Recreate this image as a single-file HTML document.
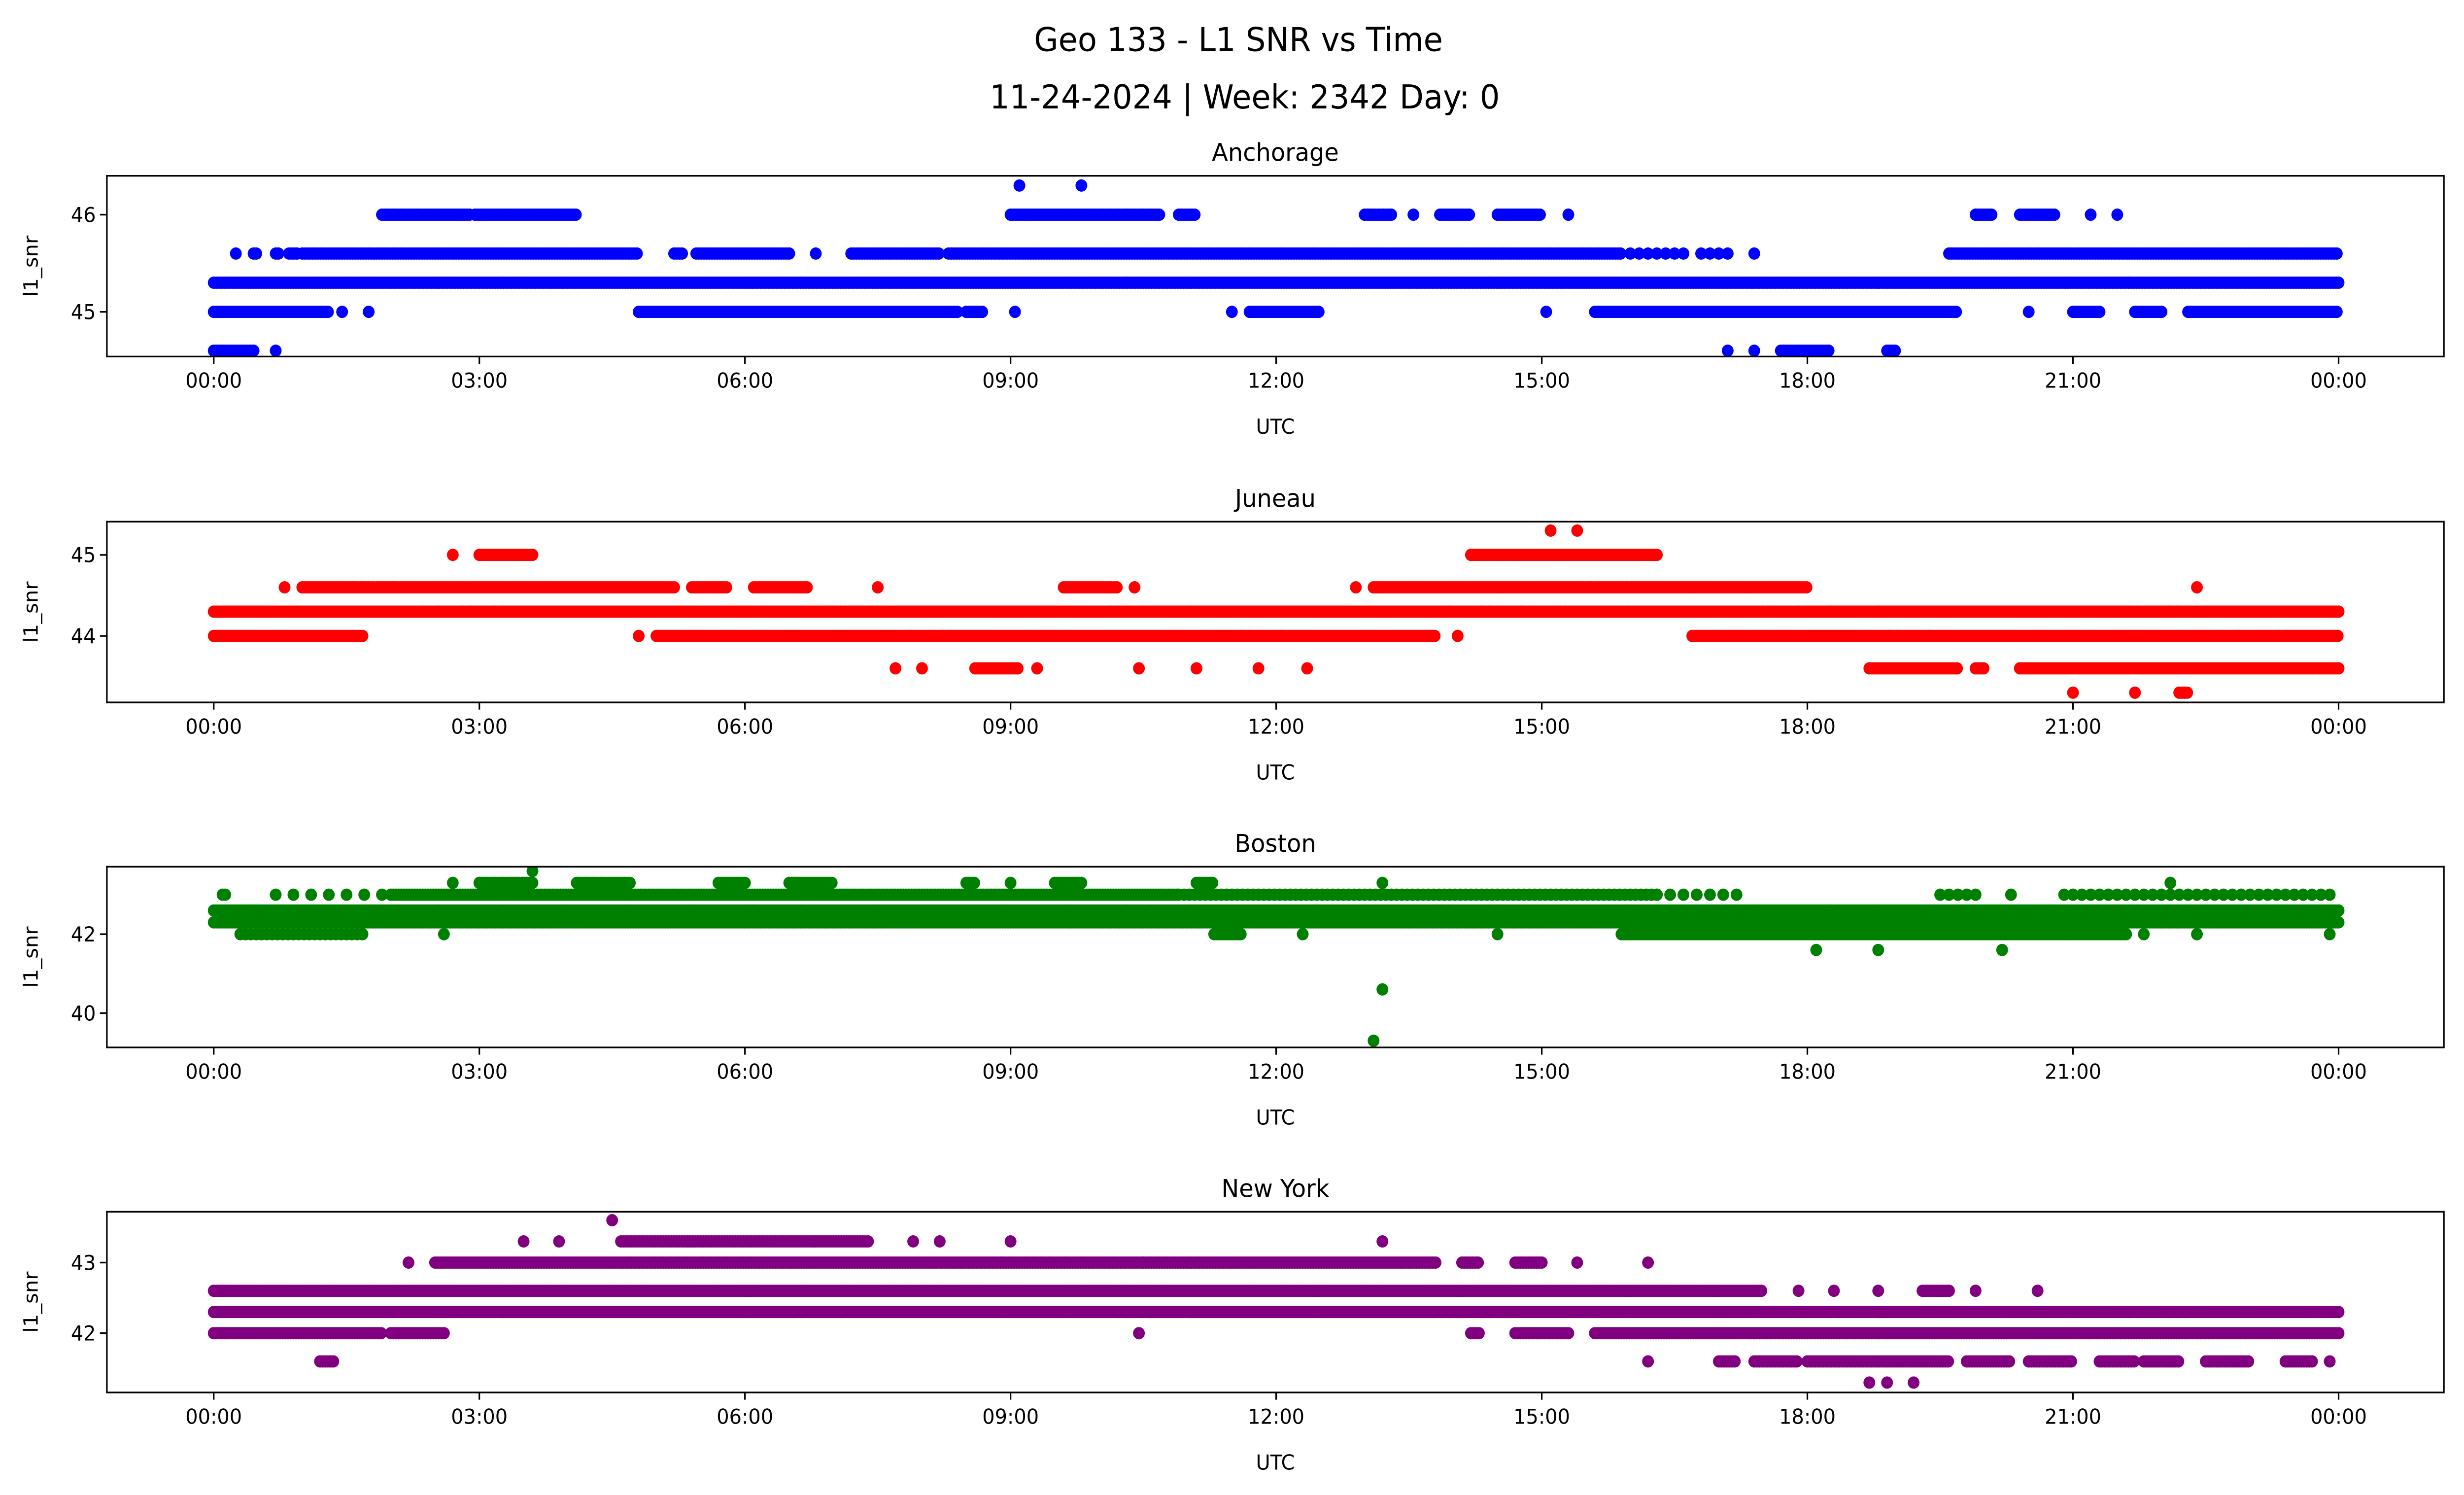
<!DOCTYPE html>
<html><head><meta charset="utf-8"><style>
html,body{margin:0;padding:0;background:#fff;overflow:hidden;width:100%;height:100%;}
svg{display:block;width:100vw;height:100vh;font-family:"DejaVu Sans","Liberation Sans",sans-serif;}
</style></head><body>
<svg id="fig" viewBox="0 0 1567.8 909.9" preserveAspectRatio="none" xmlns="http://www.w3.org/2000/svg">
<rect width="1567.8" height="909.9" fill="#fff"/>
<text x="788" y="31" text-anchor="middle" font-size="20">Geo 133 - L1 SNR vs Time</text>
<text x="792" y="66" text-anchor="middle" font-size="20">11-24-2024 | Week: 2342 Day: 0</text>
</svg>
<script>
// x-axis ticks (hours) and labels
const xTickHours = [0,3,6,9,12,15,18,21,24];
const xTickLabels = ["00:00","03:00","06:00","09:00","12:00","15:00","18:00","21:00","00:00"];
const panelTitles = ["Anchorage","Juneau","Boston","New York"];
const panelColors = ["#0000ff","#ff0000","#008000","#800080"];
const yLims = [[44.54,46.4],[43.18,45.41],[39.13,43.71],[41.16,43.72]];
const yTicks = [[45,46],[44,45],[40,42],[42,43]];
// series runs: [value, startHour, endHour, sampleSpacingHours(optional)]
const anchorageRuns = [
[45.3,0,24],
[45.6,0.25,0.25],[45.6,0.45,0.5],[45.6,0.7,0.75],[45.6,0.85,0.95],[45.6,1.0,4.8],[45.6,5.2,5.3],[45.6,5.45,6.5],[45.6,6.8,6.8],[45.6,7.2,8.2],[45.6,8.3,15.9],[45.6,16.0,16.6,0.1],[45.6,16.8,17.1,0.1],[45.6,17.4,17.4],[45.6,19.6,24],
[45.0,0,1.3],[45.0,1.45,1.45],[45.0,1.75,1.75],[45.0,4.8,8.4],[45.0,8.5,8.7],[45.0,9.05,9.05],[45.0,11.5,11.5],[45.0,11.7,12.5],[45.0,15.05,15.05],[45.0,15.6,19.7],[45.0,20.5,20.5],[45.0,21.0,21.3],[45.0,21.7,22.0],[45.0,22.3,24],
[46.0,1.9,2.9],[46.0,2.95,4.1],[46.0,9.0,10.7],[46.0,10.9,11.1],[46.0,13.0,13.3],[46.0,13.55,13.55],[46.0,13.85,14.2],[46.0,14.5,15.0],[46.0,15.3,15.3],[46.0,19.9,20.1],[46.0,20.4,20.8],[46.0,21.2,21.2],[46.0,21.5,21.5],
[46.3,9.1,9.1],[46.3,9.8,9.8],
[44.6,0,0.45],[44.6,0.7,0.7],[44.6,17.1,17.1],[44.6,17.4,17.4],[44.6,17.7,18.25],[44.6,18.9,19.0]
];
const juneauRuns = [
[44.3,0,24],
[44.0,0,1.7],[44.0,4.8,4.8],[44.0,5.0,13.8],[44.0,14.05,14.05],[44.0,16.7,24],
[44.6,0.8,0.8],[44.6,1.0,5.2],[44.6,5.4,5.8],[44.6,6.1,6.7],[44.6,7.5,7.5],[44.6,9.6,10.2],[44.6,10.4,10.4],[44.6,12.9,12.9],[44.6,13.1,18.0],[44.6,22.4,22.4],
[45.0,2.7,2.7],[45.0,3.0,3.6],[45.0,14.2,16.3],
[45.3,15.1,15.1],[45.3,15.4,15.4],
[43.6,7.7,7.7],[43.6,8.0,8.0],[43.6,8.6,9.1],[43.6,9.3,9.3],[43.6,10.45,10.45],[43.6,11.1,11.1],[43.6,11.8,11.8],[43.6,12.35,12.35],[43.6,18.7,19.7],[43.6,19.9,20.0],[43.6,20.4,24],
[43.3,21.0,21.0],[43.3,21.7,21.7],[43.3,22.2,22.3]
];
const bostonRuns = [
[42.3,0,24],[42.6,0,24],
[43.0,0.1,0.15],[43.0,0.7,2.0,0.2],[43.0,2.0,10.9],[43.0,10.9,16.3,0.06],[43.0,16.3,17.3,0.15],[43.0,19.5,19.9,0.1],[43.0,20.3,20.3],[43.0,20.9,23.9,0.1],
[42.0,0.3,1.7,0.06],[42.0,2.6,2.6],[42.0,11.3,11.6],[42.0,12.3,12.3],[42.0,14.5,14.5],[42.0,15.9,21.6],[42.0,21.8,21.8],[42.0,22.4,22.4],[42.0,23.9,23.9],
[43.3,2.7,2.7],[43.3,3.0,3.6],[43.3,4.1,4.7],[43.3,5.7,6.0],[43.3,6.5,7.0],[43.3,8.5,8.6],[43.3,9.0,9.0],[43.3,9.5,9.8],[43.3,11.1,11.3],[43.3,13.2,13.2],[43.3,22.1,22.1],
[43.6,3.6,3.6],[41.6,18.1,18.1],[41.6,18.8,18.8],[41.6,20.2,20.2],[40.6,13.2,13.2],[39.3,13.1,13.1]
];
const newYorkRuns = [
[42.3,0,24],[42.6,0,17.0],[42.6,17.0,17.5],[42.6,17.9,17.9],[42.6,18.3,18.3],[42.6,18.8,18.8],[42.6,19.3,19.6],[42.6,19.9,19.9],[42.6,20.6,20.6],
[42.0,0,1.9],[42.0,2.0,2.6],[42.0,10.45,10.45],[42.0,14.2,14.3],[42.0,14.7,15.3],[42.0,15.6,24],
[43.0,2.2,2.2],[43.0,2.5,10.5],[43.0,10.5,13.8],[43.0,14.1,14.3],[43.0,14.7,15.0],[43.0,15.4,15.4],[43.0,16.2,16.2],
[43.3,3.5,3.5],[43.3,3.9,3.9],[43.3,4.6,7.4],[43.3,7.9,7.9],[43.3,8.2,8.2],[43.3,9.0,9.0],[43.3,13.2,13.2],
[43.6,4.5,4.5],
[41.6,1.2,1.35],[41.6,16.2,16.2],[41.6,17.0,17.2],[41.6,17.4,17.9],[41.6,18.0,19.6],[41.6,19.8,20.3],[41.6,20.5,21.0],[41.6,21.3,21.7],[41.6,21.8,22.2],[41.6,22.5,23.0],[41.6,23.4,23.7],[41.6,23.9,23.9],
[41.3,18.7,18.7],[41.3,18.9,18.9],[41.3,19.2,19.2]
];
const allRuns = [anchorageRuns, juneauRuns, bostonRuns, newYorkRuns];

const NS = "http://www.w3.org/2000/svg";
const svg = document.getElementById('fig');
const L = 68, R = 1555, X0 = 136, X1 = 1488;
const tops = [107, 317.5, 527.5, 737.5], H = 110;
function mk(tag, attrs){const e=document.createElementNS(NS,tag);for(const k in attrs)e.setAttribute(k,attrs[k]);return e;}
function xs(h){return X0 + (X1-X0)*h/24;}

for(let p=0;p<4;p++){
  const top=tops[p], bot=top+H, lim=yLims[p];
  const ys = v => bot - (v-lim[0])/(lim[1]-lim[0])*H;
  const g = mk('g',{});
  
  
  svg.appendChild(g);
  const clip = mk('clipPath',{id:'c'+p}); clip.appendChild(mk('rect',{x:L,y:top,width:R-L,height:H})); svg.appendChild(clip);
  const pts = mk('g',{fill:panelColors[p],'clip-path':'url(#c'+p+')'});
  
  
  g.appendChild(pts);
  for(const r of allRuns[p]){
    const v=r[0], a=r[1], b=r[2];
    const step=r[3]||0.03;
    for(let t=a;t<=b+1e-9;t+=step){
      const c=mk('circle',{cx:xs(t).toFixed(2),cy:ys(v).toFixed(2),r:3.75});
      pts.appendChild(c);
    }
  }
  const frame = mk('rect',{x:L,y:top,width:R-L,height:H,fill:'none',stroke:'#000','stroke-width':1});
  
  
  g.appendChild(frame);
  xTickHours.forEach((h,i)=>{
    const x=xs(h);
    g.appendChild(mk('line',{x1:x,x2:x,y1:bot,y2:bot+4.4,stroke:'#000','stroke-width':1}));
    const t=mk('text',{x:x,y:bot+19,'text-anchor':'middle','font-size':12.5});
    
    
    t.textContent=xTickLabels[i]; g.appendChild(t);
  });
  yTicks[p].forEach(v=>{
    const y=ys(v);
    g.appendChild(mk('line',{x1:L-4.4,x2:L,y1:y,y2:y,stroke:'#000','stroke-width':1}));
    const t=mk('text',{x:L-7,y:y+4.5,'text-anchor':'end','font-size':12.5});
    
    
    t.textContent=String(v); g.appendChild(t);
  });
  const xl=mk('text',{x:(L+R)/2,y:bot+47,'text-anchor':'middle','font-size':12.5});
  
  
  xl.textContent='UTC'; g.appendChild(xl);
  const yl=mk('text',{x:0,y:0,'text-anchor':'middle','font-size':12.5,transform:`translate(24,${top+H/2}) rotate(-90)`});
  
  
  yl.textContent='l1_snr'; g.appendChild(yl);
  const tt=mk('text',{x:(L+R)/2,y:top-9,'text-anchor':'middle','font-size':15});
  
  
  tt.textContent=panelTitles[p]; g.appendChild(tt);
}
</script>
</body></html>
